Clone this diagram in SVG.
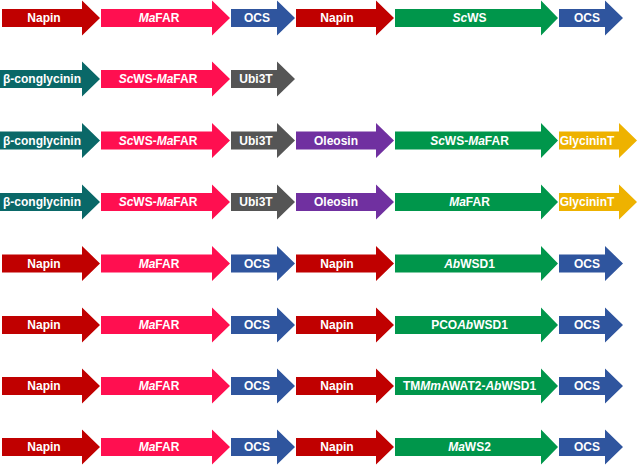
<svg xmlns="http://www.w3.org/2000/svg" width="638" height="465" viewBox="0 0 638 465">
<style>
text{font-family:"Liberation Sans",Arial,sans-serif;font-weight:bold;font-size:12px;fill:#fff;text-anchor:middle}
.i{font-style:italic}
.napin{fill:#C00000}
.pink{fill:#FF0F50}
.ocs{fill:#2F559E}
.green{fill:#00964B}
.teal{fill:#0A6868}
.gray{fill:#555555}
.purple{fill:#7030A0}
.gold{fill:#EEB200}
</style>
<rect width="638" height="465" fill="#fff"/>
<g id="connectors"/>
<!-- Row 1 cy=18 -->
<g id="r1-napin"><polygon class="napin" points="2,9 82,9 82,0.5 100,18 82,35.5 82,27 2,27"/><text x="44" y="22">Napin</text></g>
<g id="r1-mafar"><polygon class="pink" points="101,9 212,9 212,0.5 230,18 212,35.5 212,27 101,27"/><text x="159" y="22"><tspan class="i">Ma</tspan>FAR</text></g>
<g id="r1-ocs"><polygon class="ocs" points="231,9 277,9 277,0.5 295,18 277,35.5 277,27 231,27"/><text x="257" y="22">OCS</text></g>
<g id="r1-napin2"><polygon class="napin" points="296,9 376,9 376,0.5 394,18 376,35.5 376,27 296,27"/><text x="337" y="22">Napin</text></g>
<g id="r1-scws"><polygon class="green" points="395,9 541,9 541,0.5 558,18 541,35.5 541,27 395,27"/><text x="469.5" y="22"><tspan class="i">Sc</tspan>WS</text></g>
<g id="r1-ocs2"><polygon class="ocs" points="559,9 605,9 605,0.5 623,18 605,35.5 605,27 559,27"/><text x="587" y="22">OCS</text></g>
<!-- Row 2 cy=79 -->
<g id="r2-bcong"><polygon class="teal" points="0,70 82,70 82,61.5 100,79 82,96.5 82,88 0,88"/><text x="42" y="83">β-conglycinin</text></g>
<g id="r2-scwsmafar"><polygon class="pink" points="101,70 212,70 212,61.5 230,79 212,96.5 212,88 101,88"/><text x="158" y="83"><tspan class="i">Sc</tspan>WS-<tspan class="i">Ma</tspan>FAR</text></g>
<g id="r2-ubi3t"><polygon class="gray" points="231,70 277,70 277,61.5 295,79 277,96.5 277,88 231,88"/><text x="256" y="83">Ubi3T</text></g>
<!-- Row 3 cy=140.5 -->
<g id="r3-bcong"><polygon class="teal" points="0,131.5 82,131.5 82,123 100,140.5 82,158 82,149.5 0,149.5"/><text x="42" y="144.5">β-conglycinin</text></g>
<g id="r3-scwsmafar"><polygon class="pink" points="101,131.5 212,131.5 212,123 230,140.5 212,158 212,149.5 101,149.5"/><text x="158" y="144.5"><tspan class="i">Sc</tspan>WS-<tspan class="i">Ma</tspan>FAR</text></g>
<g id="r3-ubi3t"><polygon class="gray" points="231,131.5 277,131.5 277,123 295,140.5 277,158 277,149.5 231,149.5"/><text x="256" y="144.5">Ubi3T</text></g>
<g id="r3-oleosin"><polygon class="purple" points="296,131.5 376,131.5 376,123 394,140.5 376,158 376,149.5 296,149.5"/><text x="336" y="144.5">Oleosin</text></g>
<g id="r3-scwsmafar2"><polygon class="green" points="395,131.5 541,131.5 541,123 558,140.5 541,158 541,149.5 395,149.5"/><text x="469.5" y="144.5"><tspan class="i">Sc</tspan>WS-<tspan class="i">Ma</tspan>FAR</text></g>
<g id="r3-glycinint"><polygon class="gold" points="559,131.5 619,131.5 619,123 637,140.5 619,158 619,149.5 559,149.5"/><text x="587" y="144.5">GlycininT</text></g>
<!-- Row 4 cy=202 -->
<g id="r4-bcong"><polygon class="teal" points="0,193 82,193 82,184.5 100,202 82,219.5 82,211 0,211"/><text x="42" y="206">β-conglycinin</text></g>
<g id="r4-scwsmafar"><polygon class="pink" points="101,193 212,193 212,184.5 230,202 212,219.5 212,211 101,211"/><text x="158" y="206"><tspan class="i">Sc</tspan>WS-<tspan class="i">Ma</tspan>FAR</text></g>
<g id="r4-ubi3t"><polygon class="gray" points="231,193 277,193 277,184.5 295,202 277,219.5 277,211 231,211"/><text x="256" y="206">Ubi3T</text></g>
<g id="r4-oleosin"><polygon class="purple" points="296,193 376,193 376,184.5 394,202 376,219.5 376,211 296,211"/><text x="336" y="206">Oleosin</text></g>
<g id="r4-mafar"><polygon class="green" points="395,193 541,193 541,184.5 558,202 541,219.5 541,211 395,211"/><text x="469.5" y="206"><tspan class="i">Ma</tspan>FAR</text></g>
<g id="r4-glycinint"><polygon class="gold" points="559,193 619,193 619,184.5 637,202 619,219.5 619,211 559,211"/><text x="587" y="206">GlycininT</text></g>
<!-- Row 5 cy=263.5 -->
<g id="r5-napin"><polygon class="napin" points="2,254.5 82,254.5 82,246 100,263.5 82,281 82,272.5 2,272.5"/><text x="44" y="267.5">Napin</text></g>
<g id="r5-mafar"><polygon class="pink" points="101,254.5 212,254.5 212,246 230,263.5 212,281 212,272.5 101,272.5"/><text x="159" y="267.5"><tspan class="i">Ma</tspan>FAR</text></g>
<g id="r5-ocs"><polygon class="ocs" points="231,254.5 277,254.5 277,246 295,263.5 277,281 277,272.5 231,272.5"/><text x="257" y="267.5">OCS</text></g>
<g id="r5-napin2"><polygon class="napin" points="296,254.5 376,254.5 376,246 394,263.5 376,281 376,272.5 296,272.5"/><text x="337" y="267.5">Napin</text></g>
<g id="r5-abwsd1"><polygon class="green" points="395,254.5 541,254.5 541,246 558,263.5 541,281 541,272.5 395,272.5"/><text x="469.5" y="267.5"><tspan class="i">Ab</tspan>WSD1</text></g>
<g id="r5-ocs2"><polygon class="ocs" points="559,254.5 605,254.5 605,246 623,263.5 605,281 605,272.5 559,272.5"/><text x="587" y="267.5">OCS</text></g>
<!-- Row 6 cy=325 -->
<g id="r6-napin"><polygon class="napin" points="2,316 82,316 82,307.5 100,325 82,342.5 82,334 2,334"/><text x="44" y="329">Napin</text></g>
<g id="r6-mafar"><polygon class="pink" points="101,316 212,316 212,307.5 230,325 212,342.5 212,334 101,334"/><text x="159" y="329"><tspan class="i">Ma</tspan>FAR</text></g>
<g id="r6-ocs"><polygon class="ocs" points="231,316 277,316 277,307.5 295,325 277,342.5 277,334 231,334"/><text x="257" y="329">OCS</text></g>
<g id="r6-napin2"><polygon class="napin" points="296,316 376,316 376,307.5 394,325 376,342.5 376,334 296,334"/><text x="337" y="329">Napin</text></g>
<g id="r6-pcoabwsd1"><polygon class="green" points="395,316 541,316 541,307.5 558,325 541,342.5 541,334 395,334"/><text x="469.5" y="329">PCO<tspan class="i">Ab</tspan>WSD1</text></g>
<g id="r6-ocs2"><polygon class="ocs" points="559,316 605,316 605,307.5 623,325 605,342.5 605,334 559,334"/><text x="587" y="329">OCS</text></g>
<!-- Row 7 cy=386 -->
<g id="r7-napin"><polygon class="napin" points="2,377 82,377 82,368.5 100,386 82,403.5 82,395 2,395"/><text x="44" y="390">Napin</text></g>
<g id="r7-mafar"><polygon class="pink" points="101,377 212,377 212,368.5 230,386 212,403.5 212,395 101,395"/><text x="159" y="390"><tspan class="i">Ma</tspan>FAR</text></g>
<g id="r7-ocs"><polygon class="ocs" points="231,377 277,377 277,368.5 295,386 277,403.5 277,395 231,395"/><text x="257" y="390">OCS</text></g>
<g id="r7-napin2"><polygon class="napin" points="296,377 376,377 376,368.5 394,386 376,403.5 376,395 296,395"/><text x="337" y="390">Napin</text></g>
<g id="r7-tmm"><polygon class="green" points="395,377 541,377 541,368.5 558,386 541,403.5 541,395 395,395"/><text x="469.5" y="390">TM<tspan class="i">Mm</tspan>AWAT2-<tspan class="i">Ab</tspan>WSD1</text></g>
<g id="r7-ocs2"><polygon class="ocs" points="559,377 605,377 605,368.5 623,386 605,403.5 605,395 559,395"/><text x="587" y="390">OCS</text></g>
<!-- Row 8 cy=447 -->
<g id="r8-napin"><polygon class="napin" points="2,438 82,438 82,429.5 100,447 82,464.5 82,456 2,456"/><text x="44" y="451">Napin</text></g>
<g id="r8-mafar"><polygon class="pink" points="101,438 212,438 212,429.5 230,447 212,464.5 212,456 101,456"/><text x="159" y="451"><tspan class="i">Ma</tspan>FAR</text></g>
<g id="r8-ocs"><polygon class="ocs" points="231,438 277,438 277,429.5 295,447 277,464.5 277,456 231,456"/><text x="257" y="451">OCS</text></g>
<g id="r8-napin2"><polygon class="napin" points="296,438 376,438 376,429.5 394,447 376,464.5 376,456 296,456"/><text x="337" y="451">Napin</text></g>
<g id="r8-maws2"><polygon class="green" points="395,438 541,438 541,429.5 558,447 541,464.5 541,456 395,456"/><text x="469.5" y="451"><tspan class="i">Ma</tspan>WS2</text></g>
<g id="r8-ocs2"><polygon class="ocs" points="559,438 605,438 605,429.5 623,447 605,464.5 605,456 559,456"/><text x="587" y="451">OCS</text></g>
</svg>
